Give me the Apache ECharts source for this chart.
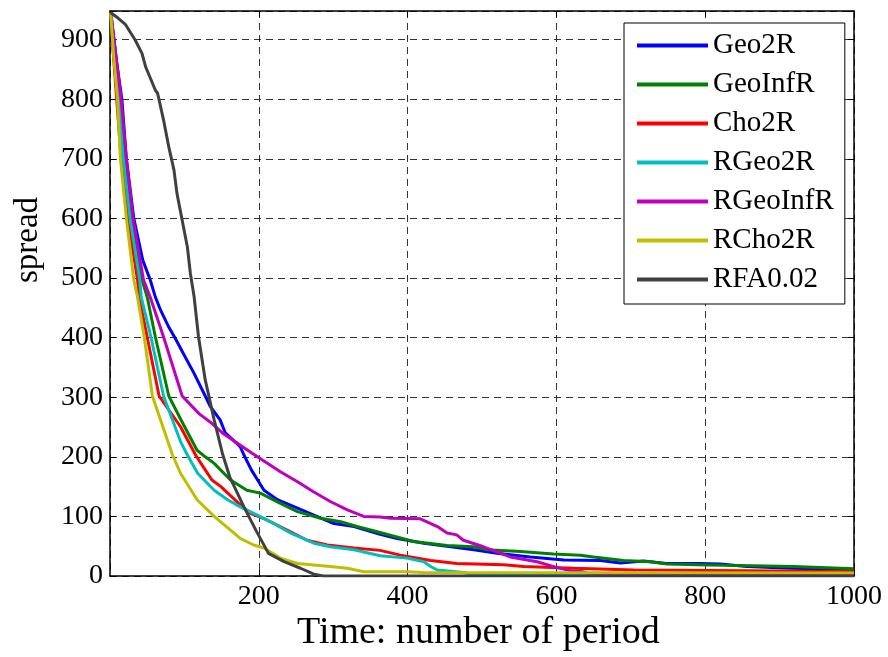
<!DOCTYPE html>
<html>
<head>
<meta charset="utf-8">
<script src="https://cdn.jsdelivr.net/npm/echarts@6/dist/echarts.min.js"></script>
<style>html,body{margin:0;padding:0;background:#fff}#c{width:888px;height:657px}</style>
</head>
<body>
<div id="c"></div>
<script>
var seriesNames = ['Geo2R','GeoInfR','Cho2R','RGeo2R','RGeoInfR','RCho2R','RFA0.02'];
var xTicks = [200,400,600,800,1000];
var yTicks = [0,100,200,300,400,500,600,700,800,900];

var geo2R = [[1,945],[8,870],[16,800],[22,700],[32,600],[44,530],[54,497],[61,468],[68,446],[78,420],[88,398],[100,370],[113,340],[128,302],[135,284],[148,262],[155,240],[175,217],[180,203],[190,178],[207,144],[225,128],[252,114],[274,102],[301,88],[328,83],[363,70],[386,63],[422,55],[489,44],[520,38],[565,32],[610,27],[659,26],[686,22],[717,25],[748,21],[793,21],[820,20],[856,16],[914,13],[1000,11]];
var geoInfR = [[1,945],[8,870],[14,800],[20,700],[29,600],[43,497],[50,468],[61,401],[79,302],[95,263],[117,211],[128,200],[140,189],[162,161],[184,144],[202,139],[229,122],[252,108],[283,97],[310,91],[332,83],[363,73],[408,58],[453,51],[489,49],[507,44],[552,41],[596,37],[632,35],[650,32],[690,26],[726,24],[749,20],[789,19],[825,18],[919,16],[1000,12]];
var cho2R = [[1,945],[3,900],[9,800],[15,700],[24,600],[37,497],[39,468],[50,401],[66,302],[95,250],[115,203],[128,178],[137,161],[149,150],[173,122],[189,105],[211,94],[238,77],[265,60],[292,52],[328,47],[363,43],[390,35],[431,26],[466,21],[529,19],[556,16],[623,13],[704,10],[856,9],[1000,7]];
var rGeo2R = [[1,945],[8,850],[12,800],[18,700],[27,600],[40,497],[42,468],[55,401],[72,302],[95,225],[104,203],[118,172],[140,144],[158,128],[175,116],[198,102],[220,88],[243,72],[274,55],[296,49],[328,44],[363,34],[399,30],[422,24],[431,16],[440,10],[475,6],[490,2],[1000,1]];
var rGeoInfR = [[1,945],[4,915],[15,800],[22,700],[31,600],[45,497],[54,468],[72,401],[97,302],[120,272],[135,258],[151,240],[158,234],[191,206],[229,175],[252,158],[274,141],[296,125],[319,111],[341,100],[363,99],[377,97],[417,96],[426,91],[440,83],[453,72],[466,69],[475,60],[502,49],[538,32],[574,24],[601,14],[618,9],[636,7],[641,5],[700,3],[1000,2]];
var rCho2R = [[1,945],[5,870],[10,800],[14,700],[22,600],[32,497],[37,468],[46,401],[57,302],[84,203],[95,172],[117,128],[140,100],[162,77],[175,63],[193,52],[207,47],[229,30],[252,21],[296,16],[319,13],[341,7],[400,7],[420,6],[1000,5]];
var rfa002 = [[1,945],[10,937],[21,925],[34,899],[43,877],[48,854],[61,815],[64,810],[72,765],[79,720],[86,681],[90,642],[97,597],[104,552],[108,508],[113,469],[119,401],[128,329],[140,262],[151,206],[161,166],[180,116],[196,77],[213,38],[234,24],[256,13],[274,3],[287,0],[1000,0]];

var allData = [geo2R, geoInfR, cho2R, rGeo2R, rGeoInfR, rCho2R, rfa002];
var colors = ['#0000ff','#008000','#ff0000','#00bfbf','#bf00bf','#bfbf00','#404040'];

var FONT = 'Liberation Serif, Times New Roman, serif';
var chart = echarts.init(document.getElementById('c'), null, {renderer:'canvas'});

var series = seriesNames.map(function(n,i){
  return {
    name: n, type: 'line', data: allData[i], symbol: 'none', showSymbol: false,
    xAxisIndex: 0, yAxisIndex: 0,
    lineStyle: {color: colors[i], width: 3}, itemStyle: {color: colors[i]},
    emphasis: {disabled: true}, animation: false
  };
});

var gridDash = {show: true, lineStyle: {color: '#333', type: [7,5], width: 1}};
chart.setOption({
  animation: false,
  backgroundColor: '#fff',
  grid: {left: 110, top: 11, width: 744, height: 565, containLabel: false},
  xAxis: [{
    type: 'value', min: 0, max: 1000, interval: 200, position: 'bottom',
    axisLine: {show: true, onZero: false, lineStyle: {color: '#000', width: 1.5}},
    axisTick: {show: true, inside: true, length: 6, lineStyle: {color: '#000'}},
    axisLabel: {showMinLabel: false, margin: 7, color: '#000', fontFamily: FONT, fontSize: 28,
      formatter: function(v){ return xTicks.indexOf(v) >= 0 ? String(v) : ''; }},
    splitLine: gridDash
  },{
    type: 'value', min: 0, max: 1000, interval: 200, position: 'top',
    axisLine: {show: true, onZero: false, lineStyle: {color: '#000', width: 1.5}},
    axisTick: {show: true, inside: true, length: 6, lineStyle: {color: '#000'}},
    axisLabel: {show: false}, splitLine: {show: false}
  }],
  yAxis: [{
    type: 'value', min: 0, max: 948, interval: 100, position: 'left',
    axisLine: {show: true, onZero: false, lineStyle: {color: '#000', width: 1.5}},
    axisTick: {show: true, inside: true, length: 6, lineStyle: {color: '#000'}},
    axisLabel: {showMaxLabel: false, margin: 7, color: '#000', fontFamily: FONT, fontSize: 28,
      formatter: function(v){ return yTicks.indexOf(v) >= 0 ? String(v) : ''; }},
    splitLine: gridDash
  },{
    type: 'value', min: 0, max: 948, interval: 100, position: 'right',
    axisLine: {show: true, onZero: false, lineStyle: {color: '#000', width: 1.5}},
    axisTick: {show: true, inside: true, length: 6, lineStyle: {color: '#000'}},
    axisLabel: {show: false}, splitLine: {show: false}
  }],
  legend: {
    show: true, orient: 'vertical', left: 624, top: 23,
    backgroundColor: '#fff', borderColor: '#000', borderWidth: 1,
    padding: [8, 11, 10, 13], itemWidth: 71, itemHeight: 4, itemGap: 10,
    icon: 'rect',
    textStyle: {fontFamily: FONT, fontSize: 29, color: '#000', lineHeight: 28},
    data: seriesNames
  },
  graphic: [
    {type: 'text', left: 297, top: 614, style: {text: 'Time: number of period', font: '38px ' + FONT, fill: '#000'}},
    {type: 'text', x: 28, y: 240, rotation: Math.PI/2, style: {text: 'spread', font: '33px ' + FONT, fill: '#000', textAlign: 'center', textVerticalAlign: 'middle'}}
  ],
  series: series
});
</script>
</body>
</html>
